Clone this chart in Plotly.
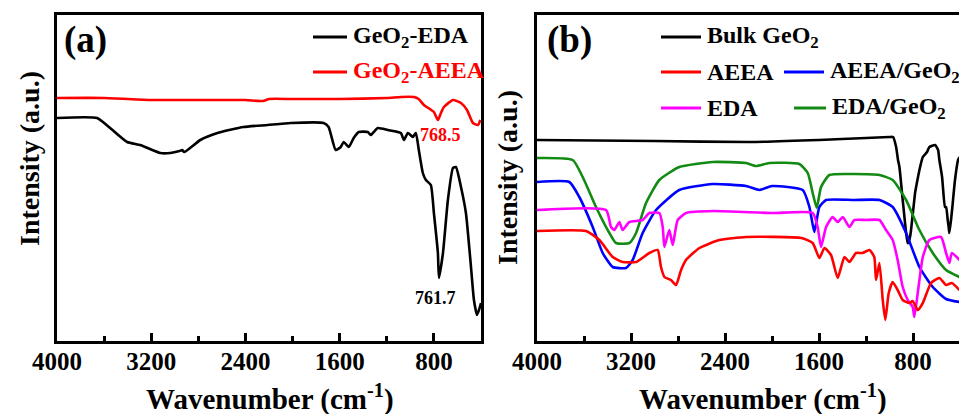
import plotly.graph_objects as go

# ---------------- data (wavenumber cm^-1, intensity a.u.) ----------------
a_eda_x = [4000, 3660, 3549, 3404, 3294, 3123, 3038, 2960, 2936, 2920, 2783, 2638, 2417, 2213, 2017,
           1736, 1694, 1634, 1591, 1566, 1523, 1481, 1438, 1362, 1336, 1277, 1191, 1080, 1055, 1021,
           979, 953, 928, 894, 868, 826, 800, 766, 757, 723, 681, 638, 613, 570, 528, 485, 460, 434, 409, 400]
a_eda_y = [223, 223, 213, 199, 196, 188, 188, 190, 191, 189, 201, 208, 214, 216, 218,
           218, 214, 191, 194, 199, 194, 203, 209, 209, 206, 213, 211, 208, 201, 208,
           204, 208, 191, 168, 161, 156, 128, 88, 63, 88, 141, 173, 174, 154, 128, 74, 41, 26, 34, 38]

a_aeea_x = [4000, 3600, 3200, 2800, 2400, 2250, 2200, 2000, 1600, 1200, 1080, 970, 930, 885, 800,
            766, 740, 715, 638, 570, 519, 468, 426, 405]
a_aeea_y = [243, 243, 241, 241, 241, 240, 242, 242, 242, 243, 244, 244, 242, 236, 229,
            221, 228, 234, 241, 238, 231, 218, 216, 221]

b_bulk_x = [4000, 3000, 2200, 1600, 1200, 1000, 970, 944, 928, 916, 888, 859, 845, 839, 826, 817,
            783, 774, 740, 717, 681, 661, 613, 587, 576, 553, 528, 519, 505, 494, 491, 477, 468, 443, 417, 405]
b_bulk_y = [201, 200, 199, 201, 203, 204, 204, 194, 181, 174, 141, 108, 98, 98, 104, 111,
            148, 154, 174, 184, 189, 194, 196, 191, 181, 164, 134, 134, 121, 111, 108, 121, 131, 161, 181, 184]

b_edageo_x = [4000, 3696, 3611, 3498, 3384, 3328, 3214, 3157, 3072, 2959, 2789, 2505, 2221, 2136, 2023,
              1767, 1696, 1654, 1620, 1583, 1512, 1300, 1086, 973, 859, 746, 632, 519, 405]
b_edageo_y = [183, 181, 164, 134, 108, 98, 98, 108, 138, 161, 174, 179, 178, 175, 178,
              177, 168, 148, 133, 154, 166, 167, 166, 161, 141, 111, 88, 71, 64]

b_aeeageo_x = [4000, 3725, 3640, 3526, 3441, 3356, 3243, 3186, 3101, 2987, 2789, 2505, 2221, 2108, 2000,
               1739, 1682, 1640, 1597, 1540, 1300, 1086, 973, 859, 746, 632, 519, 405]
b_aeeageo_y = [159, 159, 144, 114, 88, 74, 73, 81, 108, 131, 151, 157, 155, 151, 155,
               151, 134, 109, 134, 141, 141, 141, 134, 108, 74, 54, 42, 39]

b_eda_x = [4000, 3413, 3370, 3342, 3299, 3271, 3214, 3101, 3044, 2959, 2930, 2916, 2874, 2845, 2803,
           2732, 2500, 2000, 1654, 1612, 1583, 1540, 1484, 1441, 1398, 1341, 1299, 1200, 1086, 1030,
           973, 931, 888, 845, 803, 789, 760, 717, 661, 562, 519, 491, 470, 405]
b_eda_y = [131, 131, 114, 111, 119, 111, 119, 121, 128, 128, 114, 94, 111, 96, 121,
           128, 130, 128, 128, 114, 94, 114, 124, 119, 124, 114, 121, 121, 121, 111,
           101, 81, 54, 41, 34, 24, 48, 84, 101, 104, 88, 78, 88, 81]

b_aeea_x = [4000, 3583, 3469, 3356, 3271, 3157, 3044, 2973, 2945, 2916, 2860, 2817, 2774, 2732, 2618,
            2448, 2221, 1750, 1654, 1597, 1554, 1498, 1441, 1384, 1341, 1285, 1230, 1171, 1130, 1115,
            1086, 1058, 1036, 1007, 973, 931, 888, 832, 803, 760, 717, 647, 576, 519, 470, 405]
b_aeea_y = [110, 110, 101, 84, 79, 79, 88, 91, 74, 64, 61, 56, 71, 81, 93,
            101, 104, 103, 98, 83, 93, 86, 63, 84, 79, 88, 88, 91, 84, 61,
            78, 41, 21, 48, 59, 51, 41, 38, 40, 31, 38, 58, 63, 56, 58, 51]

tick_vals = [4000, 3200, 2400, 1600, 800]
tick_text = ["4000", "3200", "2400", "1600", "800"]
minor_vals = [3600, 2800, 2000, 1200]

# ---------------- figure ----------------
W, H = 959, 414
SERIF = "Liberation Serif"
RED, BLUE, MAG, GREEN = "#ff0000", "#0000ff", "#ff00ff", "#138a13"


def px(x):
    return x / W


def py(y):
    return 1 - y / H


fig = go.Figure()
LW = 2.6


def line(c):
    return dict(color=c, width=LW, shape="spline", smoothing=0.5)


fig.add_trace(go.Scatter(x=a_aeea_x, y=a_aeea_y, mode="lines", line=line(RED), xaxis="x", yaxis="y"))
fig.add_trace(go.Scatter(x=a_eda_x, y=a_eda_y, mode="lines", line=line("black"), xaxis="x", yaxis="y"))

for xs, ys, c in [(b_bulk_x, b_bulk_y, "black"), (b_edageo_x, b_edageo_y, GREEN),
                  (b_aeeageo_x, b_aeeageo_y, BLUE), (b_eda_x, b_eda_y, MAG), (b_aeea_x, b_aeea_y, RED)]:
    fig.add_trace(go.Scatter(x=xs, y=ys, mode="lines", line=line(c), xaxis="x2", yaxis="y2"))

ydom = [(H - 341) / H, (H - 15) / H]
xcommon = dict(tickvals=tick_vals, ticktext=tick_text, ticks="inside", ticklen=8, tickwidth=2.5,
               tickcolor="black", showline=True, linewidth=3, linecolor="black", mirror=True,
               showgrid=False, zeroline=False, automargin=False, ticklabelstandoff=-4,
               tickfont=dict(family=SERIF, size=25, color="black", weight="bold"),
               minor=dict(ticks="inside", tickvals=minor_vals, ticklen=5, tickwidth=2.5,
                          tickcolor="black", showgrid=False))
ycommon = dict(range=[0, 326], showticklabels=False, ticks="", showgrid=False, zeroline=False,
               showline=True, linewidth=3, linecolor="black", domain=ydom, automargin=False)

fig.update_layout(
    width=W, height=H, margin=dict(l=0, r=0, t=0, b=0, autoexpand=False),
    paper_bgcolor="white", plot_bgcolor="white", showlegend=False,
    xaxis=dict(domain=[57 / W, 481 / W], range=[4000, 400], anchor="y", **xcommon),
    yaxis=dict(anchor="x", mirror=True, **ycommon),
    xaxis2=dict(domain=[537 / W, 1.0], range=[4000, 409], anchor="y2", **xcommon),
    yaxis2=dict(anchor="x2", mirror=False, **ycommon),
)

anns = []
# axis titles
for cx, cy in [(270, 397), (763, 397)]:
    anns.append(dict(x=px(cx), y=py(cy), xref="paper", yref="paper", showarrow=False,
                     text="<b>Wavenumber (cm<sup>-1</sup>)</b>",
                     font=dict(family=SERIF, size=29, color="black"), xanchor="center", yanchor="middle"))
for cx, cy in [(30, 159), (507, 178)]:
    anns.append(dict(x=px(cx), y=py(cy), xref="paper", yref="paper", showarrow=False, textangle=-90,
                     text="<b>Intensity (a.u.)</b>",
                     font=dict(family=SERIF, size=28, color="black"), xanchor="center", yanchor="middle"))
# panel labels
for cx, t in [(62, "(a)"), (545, "(b)")]:
    anns.append(dict(x=px(cx), y=py(40), xref="paper", yref="paper", showarrow=False, text="<b>%s</b>" % t,
                     font=dict(family=SERIF, size=37, color="black"), xanchor="left", yanchor="middle"))
# peak labels
anns.append(dict(x=740, y=206, xref="x", yref="y", showarrow=False, text="<b>768.5</b>",
                 font=dict(family=SERIF, size=18, color=RED), xanchor="center", yanchor="middle"))
anns.append(dict(x=783, y=43, xref="x", yref="y", showarrow=False, text="<b>761.7</b>",
                 font=dict(family=SERIF, size=18, color="black"), xanchor="center", yanchor="middle"))

# legends (lines + text)
shapes = []
legend_items = [
    (313, 347, 37, "black", "GeO<sub>2</sub>-EDA", "black"),
    (313, 347, 72, RED, "GeO<sub>2</sub>-AEEA", RED),
    (661, 701, 37, "black", "Bulk GeO<sub>2</sub>", "black"),
    (661, 701, 72, RED, "AEEA", "black"),
    (784, 824, 72, BLUE, "AEEA/GeO<sub>2</sub>", "black"),
    (661, 701, 108, MAG, "EDA", "black"),
    (794, 826, 108, GREEN, "EDA/GeO<sub>2</sub>", "black"),
]
for x0, x1, yy, lc, txt, tc in legend_items:
    shapes.append(dict(type="line", xref="paper", yref="paper", x0=px(x0), x1=px(x1), y0=py(yy), y1=py(yy),
                       line=dict(color=lc, width=3)))
    anns.append(dict(x=px(x1 + 4), y=py(yy), xref="paper", yref="paper", showarrow=False,
                     text="<b>%s</b>" % txt, font=dict(family=SERIF, size=24, color=tc),
                     xanchor="left", yanchor="middle"))

fig.update_layout(annotations=anns, shapes=shapes)
fig.write_html("out.html")
